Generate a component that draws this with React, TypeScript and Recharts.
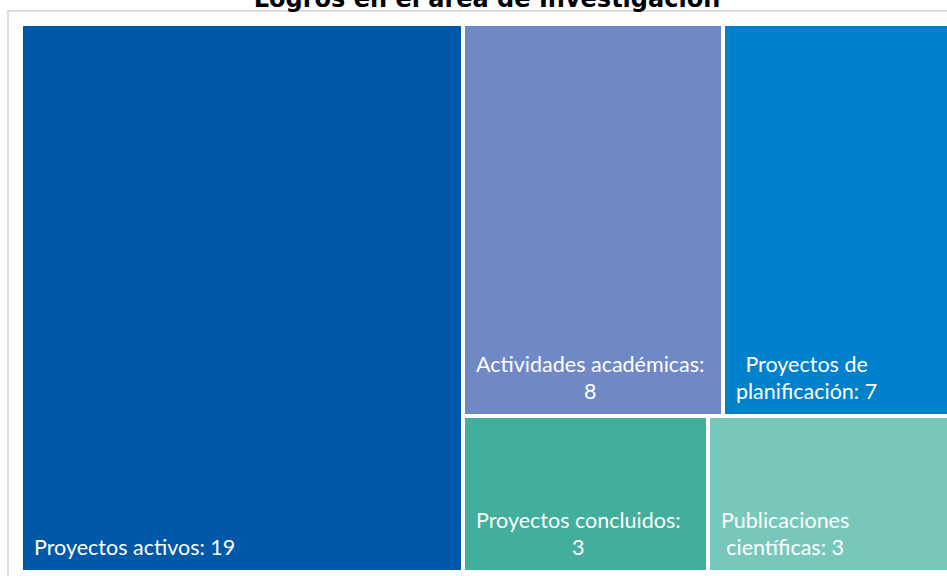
import React from 'react';
import { Treemap } from 'recharts';

// Logros del área de Investigación (treemap)
const categories = [
  'Proyectos activos',
  'Actividades académicas',
  'Proyectos de planificación',
  'Proyectos concluidos',
  'Publicaciones científicas',
];
const values = [19, 8, 7, 3, 3];
const colors = ['#0058a8', '#6e89c5', '#0081cc', '#42ae9c', '#77c8bb'];

const data = categories.map((name, i) => ({ name, size: values[i], color: colors[i] }));

const LABEL_FONT = '21.5px Lato';
let ctx: CanvasRenderingContext2D | null = null;
const measure = (s: string) => {
  if (!ctx) ctx = document.createElement('canvas').getContext('2d');
  if (!ctx) return s.length * 10;
  ctx.font = LABEL_FONT;
  return ctx.measureText(s).width;
};

const wrap = (text: string, maxW: number) => {
  const words = text.split(' ');
  const lines: string[] = [];
  let cur = '';
  words.forEach((w) => {
    const next = cur ? cur + ' ' + w : w;
    if (cur && measure(next) > maxW) {
      lines.push(cur);
      cur = w;
    } else cur = next;
  });
  if (cur) lines.push(cur);
  return lines;
};

const Cell = (props: any) => {
  const { x, y, width, height, depth, name, value, color } = props;
  if (depth !== 1) return <g />;
  const pad = 13;
  const lines = wrap(`${name}: ${value}`, width - pad * 2);
  const blockW = Math.max(...lines.map(measure));
  const cx = x + pad + blockW / 2;
  const lastY = y + height - 25;
  return (
    <g>
      <rect x={x} y={y} width={width} height={height} fill={color} stroke="#fff" strokeWidth={4} />
      {lines.map((l, i) => (
        <text
          key={i}
          x={cx}
          y={lastY - (lines.length - 1 - i) * 27.5}
          textAnchor="middle"
          dominantBaseline="central"
          fill="#fff"
          stroke="none"
          style={{ font: LABEL_FONT }}
        >
          {l}
        </text>
      ))}
    </g>
  );
};

export default function App() {
  return (
    <div style={{ position: 'absolute', left: 0, top: 0, width: 947, height: 576, overflow: 'hidden', background: '#fff' }}>
      <div
        style={{
          position: 'absolute',
          left: 7,
          top: 10,
          width: 1000,
          height: 700,
          border: '2px solid #dedede',
        }}
      />
      <svg style={{ position: 'absolute', left: 0, top: 0 }} width={947} height={20}>
        <text
          x={487}
          y={7}
          textAnchor="middle"
          style={{ fontFamily: '"DejaVu Sans"', fontWeight: 'bold', fontSize: 24 }}
          fill="#000"
        >
          Logros en el área de Investigación
        </text>
      </svg>
      <div style={{ position: 'absolute', left: 21, top: 24 }}>
        <Treemap
          width={930}
          height={548}
          data={data}
          dataKey="size"
          nameKey="name"
          stroke="#fff"
          isAnimationActive={false}
          content={<Cell />}
        />
      </div>
    </div>
  );
}
